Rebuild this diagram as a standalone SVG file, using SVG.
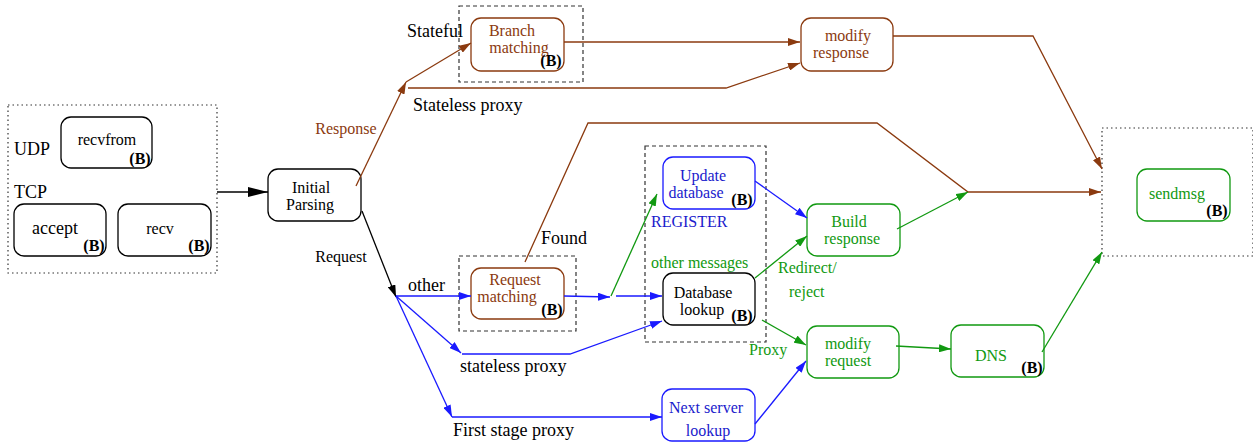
<svg xmlns="http://www.w3.org/2000/svg" width="1253" height="444" viewBox="0 0 1253 444">
<defs>
<style>
text{font-family:"Liberation Serif","DejaVu Serif",serif;font-size:16px;}
.bx{fill:#fff;stroke-width:1.3;}
.k{stroke:#000;}
.br{stroke:#8b3a0f;}
.bl{stroke:#1a1aff;}
.gr{stroke:#119911;}
.m{text-anchor:middle;}
.L{font-size:18px;}
.b{font-weight:bold;fill:#000;text-anchor:middle;}
.tb{fill:#8b3a0f;}
.tl{fill:#1a1acc;}
.tg{fill:#119911;}
.c{fill:none;stroke-width:1.3;}
.dash{fill:none;stroke:#333;stroke-width:1.2;stroke-dasharray:4,3;}
.dot{fill:none;stroke:#333;stroke-width:1.2;stroke-dasharray:1.5,3;}
</style>
<marker id="ak" viewBox="0 0 12 8" refX="12" refY="4" markerWidth="12" markerHeight="8" markerUnits="userSpaceOnUse" orient="auto"><path d="M0,0L12,4L0,8z" fill="#000"/></marker>
<marker id="akL" viewBox="0 0 20 10" refX="20" refY="5" markerWidth="20" markerHeight="10" markerUnits="userSpaceOnUse" orient="auto"><path d="M0,0L20,5L0,10z" fill="#000"/></marker>
<marker id="abr" viewBox="0 0 12 8" refX="12" refY="4" markerWidth="12" markerHeight="8" markerUnits="userSpaceOnUse" orient="auto"><path d="M0,0L12,4L0,8z" fill="#8b3a0f"/></marker>
<marker id="abl" viewBox="0 0 12 8" refX="12" refY="4" markerWidth="12" markerHeight="8" markerUnits="userSpaceOnUse" orient="auto"><path d="M0,0L12,4L0,8z" fill="#1a1aff"/></marker>
<marker id="agr" viewBox="0 0 12 8" refX="12" refY="4" markerWidth="12" markerHeight="8" markerUnits="userSpaceOnUse" orient="auto"><path d="M0,0L12,4L0,8z" fill="#119911"/></marker>
</defs>
<rect width="1253" height="444" fill="#fff"/>

<g id="containers">
<rect class="dot" x="8" y="105" width="209" height="168"/>
<rect class="dash" x="459" y="6" width="124" height="76"/>
<rect class="dash" x="459" y="256" width="117" height="75"/>
<rect class="dash" x="645" y="146" width="121" height="196"/>
<rect class="dot" x="1102" y="128" width="151" height="128"/>
</g>

<g id="labels">
<text class="L" x="14" y="155">UDP</text>
<text class="L" x="14" y="198">TCP</text>
<text class="tb m" x="346" y="134">Response</text>
<text class="m" x="341" y="262">Request</text>
<text class="L" x="407" y="37">Stateful</text>
<text class="L" x="413" y="111">Stateless proxy</text>
<text class="L" x="541" y="244">Found</text>
<text class="L" x="408" y="291">other</text>
<text class="L" x="460" y="372">stateless proxy</text>
<text class="L" x="453" y="436">First stage proxy</text>
<text class="tl" x="651" y="227">REGISTER</text>
<text class="tg" x="651" y="268">other messages</text>
<text class="tg" x="778" y="273">Redirect/</text>
<text class="tg" x="789" y="297">reject</text>
<text class="tg" x="749" y="355">Proxy</text>
</g>

<g id="recvfrom"><rect class="bx k" x="61" y="117" width="91" height="51" rx="10"/><text class="m" x="107" y="145">recvfrom</text><text class="b" x="140" y="164">(B)</text></g>
<g id="accept"><rect class="bx k" x="14" y="204" width="92" height="52" rx="10"/><text class="L m" x="55" y="234">accept</text><text class="b" x="94" y="251">(B)</text></g>
<g id="recv"><rect class="bx k" x="118" y="204" width="93" height="52" rx="10"/><text class="m" x="160" y="234">recv</text><text class="b" x="199" y="251">(B)</text></g>
<g id="initial-parsing"><rect class="bx k" x="268" y="169" width="93" height="52" rx="10"/><text class="m" x="311" y="193">Initial</text><text class="m" x="310" y="210">Parsing</text></g>
<g id="branch-matching"><rect class="bx br" x="471" y="18" width="93" height="53" rx="10"/><text class="tb m" x="512" y="36">Branch</text><text class="tb m" x="519" y="53">matching</text><text class="b" x="551" y="66">(B)</text></g>
<g id="modify-response"><rect class="bx br" x="801" y="18" width="92" height="53" rx="10"/><text class="tb m" x="848" y="41">modify</text><text class="tb m" x="841" y="58">response</text></g>
<g id="request-matching"><rect class="bx br" x="471" y="268" width="93" height="51" rx="10"/><text class="tb m" x="515" y="285">Request</text><text class="tb m" x="507" y="302">matching</text><text class="b" x="552" y="315">(B)</text></g>
<g id="update-database"><rect class="bx bl" x="663" y="157" width="92" height="52" rx="10"/><text class="tl m" x="703" y="181">Update</text><text class="tl m" x="696" y="198">database</text><text class="b" x="742" y="205">(B)</text></g>
<g id="database-lookup"><rect class="bx k" x="663" y="273" width="92" height="52" rx="10"/><text class="m" x="703" y="298">Database</text><text class="m" x="702" y="315">lookup</text><text class="b" x="742" y="321">(B)</text></g>
<g id="build-response"><rect class="bx gr" x="807" y="204" width="93" height="52" rx="10"/><text class="tg m" x="849" y="227">Build</text><text class="tg m" x="852" y="244">response</text></g>
<g id="modify-request"><rect class="bx gr" x="807" y="326" width="92" height="52" rx="10"/><text class="tg m" x="848" y="349">modify</text><text class="tg m" x="848" y="366">request</text></g>
<g id="next-server-lookup"><rect class="bx bl" x="662" y="389" width="93" height="52" rx="10"/><text class="tl m" x="706" y="413">Next server</text><text class="tl m" x="708" y="436">lookup</text></g>
<g id="dns"><rect class="bx gr" x="951" y="325" width="93" height="52" rx="10"/><text class="tg m" x="991" y="361">DNS</text><text class="b" x="1032" y="373">(B)</text></g>
<g id="sendmsg"><rect class="bx gr" x="1137" y="169" width="93" height="52" rx="10"/><text class="tg m" x="1177" y="199">sendmsg</text><text class="b" x="1217" y="216">(B)</text></g>

<g id="connectors">
<path class="c k" d="M217,192H268" marker-end="url(#akL)"/>
<path class="c br" d="M356,186L406,82" marker-end="url(#abr)"/>
<path class="c br" d="M406,82L471,43" marker-end="url(#abr)"/>
<path class="c br" d="M408,88H726L800,63" marker-end="url(#abr)"/>
<path class="c br" d="M564,42H800" marker-end="url(#abr)"/>
<path class="c br" d="M893,36H1033L1102,169" marker-end="url(#abr)"/>
<path class="c br" d="M525,262L588,123H877L968,192H1101" marker-end="url(#abr)"/>
<path class="c k" d="M362,211L396,297" marker-end="url(#ak)"/>
<path class="c bl" d="M396,296H471" marker-end="url(#abl)"/>
<path class="c bl" d="M396,296L461,353" marker-end="url(#abl)"/>
<path class="c bl" d="M462,354H570L662,321" marker-end="url(#abl)"/>
<path class="c bl" d="M396,296L452,417" marker-end="url(#abl)"/>
<path class="c bl" d="M452,417H662" marker-end="url(#abl)"/>
<path class="c bl" d="M564,296L610,297" marker-end="url(#abl)"/>
<path class="c bl" d="M616,296H662" marker-end="url(#abl)"/>
<path class="c gr" d="M611,296L657,194" marker-end="url(#agr)"/>
<path class="c bl" d="M755,181L807,218" marker-end="url(#abl)"/>
<path class="c gr" d="M755,278L807,236" marker-end="url(#agr)"/>
<path class="c gr" d="M897,229L968,192" marker-end="url(#agr)"/>
<path class="c gr" d="M762,320L806,345" marker-end="url(#agr)"/>
<path class="c bl" d="M755,424L806,361" marker-end="url(#abl)"/>
<path class="c gr" d="M896,346L951,349" marker-end="url(#agr)"/>
<path class="c gr" d="M1042,352L1102,252" marker-end="url(#agr)"/>
</g>
</svg>
